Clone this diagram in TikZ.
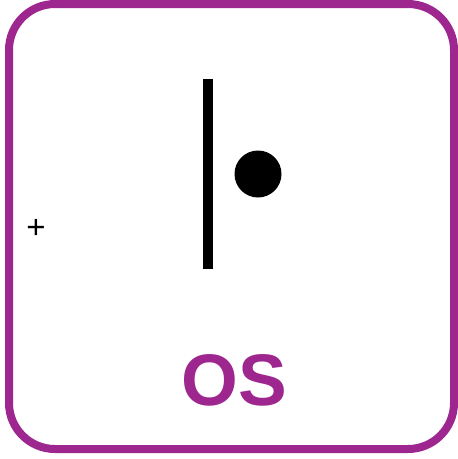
\documentclass[tikz,border=0pt]{standalone}
\usepackage{fontspec}
\setmainfont{Liberation Sans}
\definecolor{ospurple}{RGB}{158,38,143}
\newcommand{\osfont}{\fontsize{73}{73}\selectfont\bfseries}
\newcommand{\osplusfont}{\fontsize{33}{33}\selectfont}
\tikzset{
    os/chart/.style={x=1pt, y=-1pt},
    os/frame/.style={draw=ospurple, line width=8pt, rounded corners=46pt},
    os/bar/.style={draw=black, line width=10pt},
    os/dot/.style={fill=black},
    os/title/.style={font=\osfont, text=ospurple, inner sep=0pt},
    os/plus/.style={font=\osplusfont, inner sep=0pt}
}
\begin{document}
\begin{tikzpicture}[os/chart]
    \useasboundingbox (0,0) rectangle (458,459);
    \draw[os/frame] (9,4) rectangle (454,449);
    \draw[os/bar] (208,79) -- (208,269);
    \fill[os/dot] (258,174) circle (23.5);
    \node[os/plus] (plus) at (36,229) {+};
    \node[os/title] (title) at (234,380) {OS};
\end{tikzpicture}
\end{document}
